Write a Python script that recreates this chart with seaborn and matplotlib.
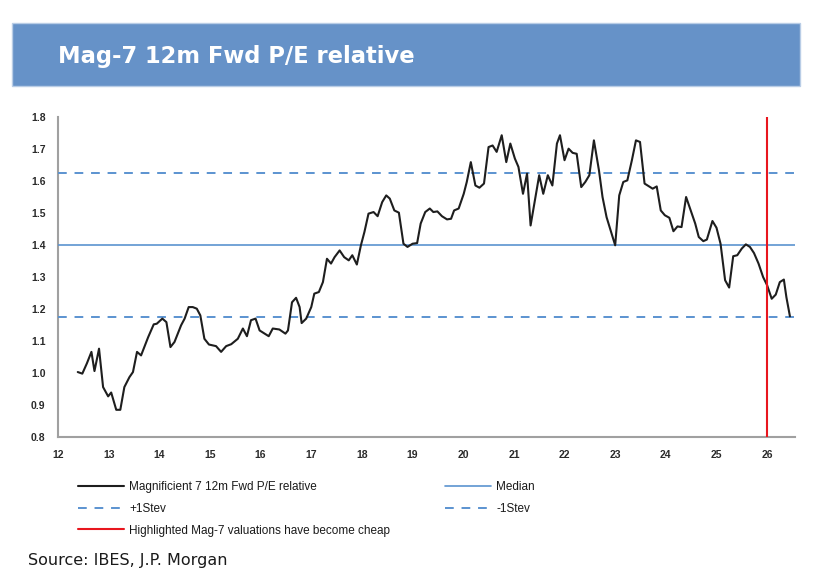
import matplotlib
matplotlib.use("Agg")
import matplotlib.pyplot as plt
import seaborn as sns
import pandas as pd
from matplotlib.patches import Rectangle

# ---- data (x = year - 2000, fractional) ----
years = [12.39, 12.48, 12.57, 12.66, 12.72, 12.81, 12.89, 12.99, 13.05, 13.15,
         13.23, 13.31, 13.41, 13.48, 13.56, 13.64, 13.78, 13.89, 13.95, 14.06,
         14.14, 14.22, 14.30, 14.43, 14.50, 14.58, 14.66, 14.74, 14.81, 14.89,
         14.98, 15.12, 15.22, 15.32, 15.42, 15.55, 15.65, 15.73, 15.81, 15.90,
         15.98, 16.08, 16.16, 16.24, 16.37, 16.49, 16.54, 16.62, 16.70, 16.77,
         16.81, 16.90, 17.00, 17.06, 17.15, 17.23, 17.31, 17.39, 17.46, 17.56,
         17.65, 17.74, 17.81, 17.90, 17.98, 18.05, 18.13, 18.23, 18.31, 18.40,
         18.48, 18.55, 18.64, 18.73, 18.82, 18.90, 19.00, 19.09, 19.16, 19.25,
         19.34, 19.41, 19.49, 19.58, 19.68, 19.76, 19.82, 19.91, 20.01, 20.07,
         20.15, 20.24, 20.32, 20.41, 20.50, 20.58, 20.66, 20.76, 20.85, 20.93,
         21.02, 21.09, 21.18, 21.26, 21.33, 21.42, 21.50, 21.58, 21.67, 21.76,
         21.85, 21.91, 22.00, 22.08, 22.16, 22.24, 22.33, 22.41, 22.49, 22.58,
         22.68, 22.75, 22.83, 22.91, 23.00, 23.08, 23.16, 23.24, 23.33, 23.41,
         23.49, 23.58, 23.67, 23.74, 23.82, 23.90, 23.98, 24.07, 24.15, 24.23,
         24.31, 24.40, 24.49, 24.58, 24.65, 24.74, 24.81, 24.92, 25.00, 25.08,
         25.17, 25.25, 25.33, 25.41, 25.50, 25.58, 25.66, 25.74, 25.83, 25.92,
         26.00, 26.09, 26.17, 26.25, 26.33, 26.38, 26.45]
pe_relative = [1.003, 0.998, 1.030, 1.066, 1.006, 1.076, 0.956, 0.927, 0.939, 0.885,
               0.885, 0.956, 0.987, 1.003, 1.066, 1.055, 1.112, 1.152, 1.154, 1.170,
               1.159, 1.081, 1.097, 1.149, 1.170, 1.206, 1.206, 1.201, 1.180, 1.107,
               1.089, 1.084, 1.066, 1.084, 1.090, 1.107, 1.139, 1.115, 1.165, 1.170,
               1.133, 1.123, 1.115, 1.139, 1.136, 1.123, 1.133, 1.221, 1.235, 1.206,
               1.156, 1.170, 1.206, 1.248, 1.253, 1.284, 1.357, 1.342, 1.362, 1.383,
               1.362, 1.352, 1.368, 1.339, 1.399, 1.441, 1.498, 1.503, 1.490, 1.534,
               1.555, 1.545, 1.508, 1.501, 1.404, 1.394, 1.404, 1.406, 1.467, 1.503,
               1.514, 1.503, 1.505, 1.490, 1.480, 1.482, 1.508, 1.514, 1.560, 1.597,
               1.659, 1.586, 1.579, 1.592, 1.706, 1.711, 1.691, 1.743, 1.659, 1.717,
               1.670, 1.644, 1.560, 1.623, 1.461, 1.545, 1.618, 1.560, 1.618, 1.586,
               1.717, 1.743, 1.665, 1.701, 1.688, 1.685, 1.581, 1.597, 1.618, 1.727,
               1.633, 1.550, 1.487, 1.446, 1.399, 1.555, 1.597, 1.602, 1.665, 1.727,
               1.722, 1.592, 1.583, 1.576, 1.583, 1.508, 1.493, 1.485, 1.443, 1.458,
               1.456, 1.550, 1.508, 1.467, 1.425, 1.412, 1.417, 1.475, 1.454, 1.404,
               1.290, 1.267, 1.365, 1.368, 1.389, 1.402, 1.394, 1.375, 1.342, 1.300,
               1.274, 1.232, 1.245, 1.284, 1.292, 1.237, 1.177]
median_value = 1.40
plus_1sd = 1.626
minus_1sd = 1.174
highlight_year = 26.0

x_ticks = [12, 13, 14, 15, 16, 17, 18, 19, 20, 21, 22, 23, 24, 25, 26]
y_ticks = [0.8, 0.9, 1.0, 1.1, 1.2, 1.3, 1.4, 1.5, 1.6, 1.7, 1.8]

title = "Mag-7 12m Fwd P/E relative"
source = "Source: IBES, J.P. Morgan"
lbl_main = "Magnificient 7 12m Fwd P/E relative"
lbl_median = "Median"
lbl_plus = "+1Stev"
lbl_minus = "-1Stev"
lbl_red = "Highlighted Mag-7 valuations have become cheap"

# ---- style ----
sns.set_style("white")
plt.rcParams["font.family"] = ["Liberation Sans", "DejaVu Sans"]

W, H = 817, 586
fig = plt.figure(figsize=(W / 100, H / 100), dpi=100)

blue = "#5b93d0"
black = "#1e1e1e"
red = "#e8161e"
axis_gray = "#a0a0a0"

# banner
fig.patches.append(Rectangle((12 / W, 1 - 86 / H), (800 - 12) / W, (86 - 23) / H,
                             transform=fig.transFigure, facecolor="#6692c8",
                             edgecolor="#b9cde6", linewidth=1.0, zorder=0))
fig.text(58 / W, 1 - 56 / H, title, color="white", fontsize=16.3, fontweight="bold",
         family=["DejaVu Sans"], va="center", ha="left")

ax = fig.add_axes([58 / W, 1 - 437 / H, (795 - 58) / W, (437 - 117) / H])

df = pd.DataFrame({"year": years, "pe": pe_relative})
sns.lineplot(data=df, x="year", y="pe", ax=ax, color=black, linewidth=1.5,
             sort=False, estimator=None, label=lbl_main, zorder=5)
dash = (0, (4.5, 4.0))
ax.axhline(median_value, color=blue, linewidth=1.2, label=lbl_median, zorder=3)
ax.axhline(plus_1sd, color=blue, linewidth=1.4, linestyle=dash, label=lbl_plus, zorder=3)
ax.axhline(minus_1sd, color=blue, linewidth=1.4, linestyle=dash, label=lbl_minus, zorder=3)
ax.axvline(highlight_year, color=red, linewidth=1.5, label=lbl_red, zorder=6)

ax.set_xlim(12, 26.55)
ax.set_ylim(0.8, 1.8)
ax.set_xticks(x_ticks)
ax.set_xticklabels([str(t) for t in x_ticks])
ax.set_yticks(y_ticks)
ax.set_yticklabels([f"{t:.1f}" for t in y_ticks])
ax.set_xlabel("")
ax.set_ylabel("")
for s in ["top", "right"]:
    ax.spines[s].set_visible(False)
for s in ["left", "bottom"]:
    ax.spines[s].set_color(axis_gray)
    ax.spines[s].set_linewidth(1.5)
ax.tick_params(axis="both", colors=axis_gray, labelcolor="#2a2a2a", labelsize=7.5,
               width=1.2)
ax.tick_params(axis="y", length=6, pad=3)
ax.tick_params(axis="x", length=5, pad=4)
for lab in ax.get_xticklabels() + ax.get_yticklabels():
    lab.set_fontweight("bold")

handles, labels = ax.get_legend_handles_labels()
hmap = dict(zip(labels, handles))
if ax.get_legend() is not None:
    ax.get_legend().remove()

leg_kw = dict(frameon=False, handlelength=3.9, handletextpad=0.45,
              labelspacing=0.83, borderaxespad=0, borderpad=0,
              prop={"family": ["Liberation Sans"], "size": 8.5})
leg1 = fig.legend([hmap[lbl_main], hmap[lbl_plus], hmap[lbl_red]],
                  [lbl_main, lbl_plus, lbl_red], loc="upper left",
                  bbox_to_anchor=(78 / W, 1 - 481 / H), **leg_kw)
leg2 = fig.legend([hmap[lbl_median], hmap[lbl_minus]], [lbl_median, lbl_minus],
                  loc="upper left", bbox_to_anchor=(445 / W, 1 - 481 / H), **leg_kw)
for leg in (leg1, leg2):
    for t in leg.get_texts():
        t.set_color("#1a1a1a")

fig.text(28 / W, 1 - 560 / H, source, fontsize=11.5, color="#1a1a1a", va="center",
         ha="left", family=["DejaVu Sans"])

fig.savefig("out.png", dpi=100)
